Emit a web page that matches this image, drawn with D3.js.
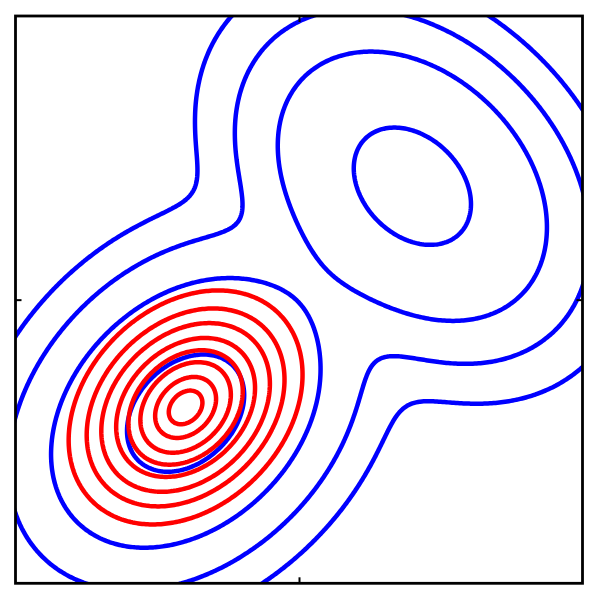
<!DOCTYPE html>
<html>
<head>
<meta charset="utf-8">
<script src="https://cdn.jsdelivr.net/npm/d3@7"></script>
<style>
  html, body { margin: 0; padding: 0; background: #fff; }
  svg { display: block; }
</style>
</head>
<body>
<svg id="chart" width="600" height="596"></svg>
<script>
// ---- Data ----
// Blue: mixture of two Gaussians p(Z)
const mixMeans   = [[-0.40, -0.40], [0.40, 0.40]];
const mixWeights = [1.0, 1.0];
const mixStd     = [[0.238, 0.238], [0.238, 0.238]];
const mixCorr    = [0.306, -0.306];
const mixLevels  = [0.0056, 0.0315, 0.137, 0.686];

// Red: single Gaussian q(Z)
const qMean   = [-0.40, -0.38];
const qStd    = [0.208, 0.208];
const qCorr   = 0.28;
const qLevels = [0.14, 0.245, 0.36, 0.50, 0.625, 0.745, 0.875, 0.96];

// Axes
const xDomain = [-1, 1];
const yDomain = [-1, 1];
const xTicks = [0];
const yTicks = [0];

// ---- Layout ----
const frame = { left: 15.5, right: 582.5, top: 16, bottom: 583.3 };
const svg = d3.select("#chart");
const xScale = d3.scaleLinear().domain(xDomain).range([frame.left, frame.right]);
const yScale = d3.scaleLinear().domain(yDomain).range([frame.bottom, frame.top]);

function gauss(x, y, m, s, r) {
  const dx = (x - m[0]) / s[0], dy = (y - m[1]) / s[1];
  const q = (dx * dx - 2 * r * dx * dy + dy * dy) / (1 - r * r);
  return Math.exp(-0.5 * q);
}

// grid
const g0 = -1.1, g1 = 1.1, n = 331;
const step = (g1 - g0) / (n - 1);
const mixVals = new Float64Array(n * n);
const qVals = new Float64Array(n * n);
for (let j = 0; j < n; j++) {
  const y = g0 + j * step;
  for (let i = 0; i < n; i++) {
    const x = g0 + i * step;
    let v = 0;
    for (let k = 0; k < mixMeans.length; k++) v += mixWeights[k] * gauss(x, y, mixMeans[k], mixStd[k], mixCorr[k]);
    mixVals[i + j * n] = v;
    qVals[i + j * n] = gauss(x, y, qMean, qStd, qCorr);
  }
}

const proj = d3.geoTransform({
  point(px, py) {
    this.stream.point(xScale(g0 + (px - 0.5) * step), yScale(g0 + (py - 0.5) * step));
  }
});
const path = d3.geoPath(proj);

svg.append("defs").append("clipPath").attr("id", "clip")
  .append("rect")
  .attr("x", frame.left).attr("y", frame.top)
  .attr("width", frame.right - frame.left).attr("height", frame.bottom - frame.top);

const plot = svg.append("g").attr("clip-path", "url(#clip)");

const mixContours = d3.contours().size([n, n]).thresholds(mixLevels)(mixVals);
plot.append("g").selectAll("path").data(mixContours).join("path")
  .attr("d", path).attr("fill", "none").attr("stroke", "#0000ff")
  .attr("stroke-width", 4.5).attr("stroke-linejoin", "round");

const qContours = d3.contours().size([n, n]).thresholds(qLevels)(qVals);
plot.append("g").selectAll("path").data(qContours).join("path")
  .attr("d", path).attr("fill", "none").attr("stroke", "#ff0000")
  .attr("stroke-width", 4.5).attr("stroke-linejoin", "round");

// frame
svg.append("rect")
  .attr("x", frame.left).attr("y", frame.top)
  .attr("width", frame.right - frame.left).attr("height", frame.bottom - frame.top)
  .attr("fill", "none").attr("stroke", "#000").attr("stroke-width", 2.8);

// ticks (inside)
function styleAxis(g) {
  g.select(".domain").remove();
  g.selectAll(".tick line").attr("stroke", "#000").attr("stroke-width", 2);
  g.selectAll(".tick text").remove();
}
svg.append("g").attr("transform", `translate(0,${frame.bottom})`)
  .call(d3.axisBottom(xScale).tickValues(xTicks).tickSizeInner(-6).tickSizeOuter(0).tickFormat("")).call(styleAxis);
svg.append("g").attr("transform", `translate(0,${frame.top})`)
  .call(d3.axisTop(xScale).tickValues(xTicks).tickSizeInner(-6).tickSizeOuter(0).tickFormat("")).call(styleAxis);
svg.append("g").attr("transform", `translate(${frame.left},0)`)
  .call(d3.axisLeft(yScale).tickValues(yTicks).tickSizeInner(-6).tickSizeOuter(0).tickFormat("")).call(styleAxis);
svg.append("g").attr("transform", `translate(${frame.right},0)`)
  .call(d3.axisRight(yScale).tickValues(yTicks).tickSizeInner(-6).tickSizeOuter(0).tickFormat("")).call(styleAxis);
</script>
</body>
</html>
